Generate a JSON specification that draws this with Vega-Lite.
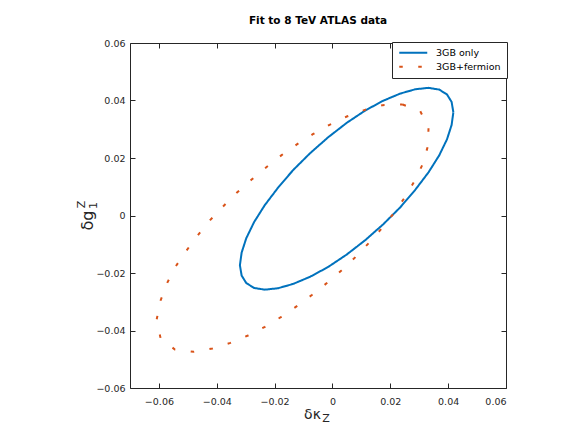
{
  "$schema": "https://vega.github.io/schema/vega-lite/v6.json",
  "autosize": {"type": "none"},
  "width": 376,
  "height": 345,
  "padding": {"left": 130, "top": 43, "right": 67, "bottom": 45},
  "background": "white",
  "title": {"text": "Fit to 8 TeV ATLAS data", "font": "DejaVu Sans", "fontSize": 10.5, "fontWeight": "bold", "color": "#000000", "anchor": "middle", "offset": 12},
  "datasets": {
    "curves": [
      {"s": "3GB only", "i": 0, "x": 0.0418, "y": 0.0359},
      {"s": "3GB only", "i": 1, "x": 0.0412, "y": 0.0315},
      {"s": "3GB only", "i": 2, "x": 0.0396, "y": 0.0265},
      {"s": "3GB only", "i": 3, "x": 0.0369, "y": 0.0209},
      {"s": "3GB only", "i": 4, "x": 0.0332, "y": 0.0150},
      {"s": "3GB only", "i": 5, "x": 0.0286, "y": 0.0089},
      {"s": "3GB only", "i": 6, "x": 0.0234, "y": 0.0028},
      {"s": "3GB only", "i": 7, "x": 0.0175, "y": -0.0031},
      {"s": "3GB only", "i": 8, "x": 0.0113, "y": -0.0086},
      {"s": "3GB only", "i": 9, "x": 0.0049, "y": -0.0136},
      {"s": "3GB only", "i": 10, "x": -0.0015, "y": -0.0179},
      {"s": "3GB only", "i": 11, "x": -0.0077, "y": -0.0213},
      {"s": "3GB only", "i": 12, "x": -0.0136, "y": -0.0238},
      {"s": "3GB only", "i": 13, "x": -0.0188, "y": -0.0253},
      {"s": "3GB only", "i": 14, "x": -0.0234, "y": -0.0258},
      {"s": "3GB only", "i": 15, "x": -0.0271, "y": -0.0252},
      {"s": "3GB only", "i": 16, "x": -0.0298, "y": -0.0235},
      {"s": "3GB only", "i": 17, "x": -0.0314, "y": -0.0209},
      {"s": "3GB only", "i": 18, "x": -0.0320, "y": -0.0173},
      {"s": "3GB only", "i": 19, "x": -0.0314, "y": -0.0129},
      {"s": "3GB only", "i": 20, "x": -0.0298, "y": -0.0079},
      {"s": "3GB only", "i": 21, "x": -0.0271, "y": -0.0023},
      {"s": "3GB only", "i": 22, "x": -0.0234, "y": 0.0036},
      {"s": "3GB only", "i": 23, "x": -0.0188, "y": 0.0097},
      {"s": "3GB only", "i": 24, "x": -0.0136, "y": 0.0158},
      {"s": "3GB only", "i": 25, "x": -0.0077, "y": 0.0217},
      {"s": "3GB only", "i": 26, "x": -0.0015, "y": 0.0272},
      {"s": "3GB only", "i": 27, "x": 0.0049, "y": 0.0322},
      {"s": "3GB only", "i": 28, "x": 0.0113, "y": 0.0365},
      {"s": "3GB only", "i": 29, "x": 0.0175, "y": 0.0399},
      {"s": "3GB only", "i": 30, "x": 0.0234, "y": 0.0424},
      {"s": "3GB only", "i": 31, "x": 0.0286, "y": 0.0439},
      {"s": "3GB only", "i": 32, "x": 0.0332, "y": 0.0444},
      {"s": "3GB only", "i": 33, "x": 0.0369, "y": 0.0438},
      {"s": "3GB only", "i": 34, "x": 0.0396, "y": 0.0421},
      {"s": "3GB only", "i": 35, "x": 0.0412, "y": 0.0395},
      {"s": "3GB only", "i": 36, "x": 0.0418, "y": 0.0359},
      {"s": "3GB+fermion", "i": 0, "x": 0.02425, "y": 0.03861},
      {"s": "3GB+fermion", "i": 1, "x": 0.03034, "y": 0.03629},
      {"s": "3GB+fermion", "i": 2, "x": 0.03322, "y": 0.03072},
      {"s": "3GB+fermion", "i": 3, "x": 0.03299, "y": 0.02412},
      {"s": "3GB+fermion", "i": 4, "x": 0.03115, "y": 0.01774},
      {"s": "3GB+fermion", "i": 5, "x": 0.02828, "y": 0.01183},
      {"s": "3GB+fermion", "i": 6, "x": 0.02483, "y": 0.00603},
      {"s": "3GB+fermion", "i": 7, "x": 0.02103, "y": 0.00058},
      {"s": "3GB+fermion", "i": 8, "x": 0.0169, "y": -0.00464},
      {"s": "3GB+fermion", "i": 9, "x": 0.01253, "y": -0.00962},
      {"s": "3GB+fermion", "i": 10, "x": 0.00793, "y": -0.01449},
      {"s": "3GB+fermion", "i": 11, "x": 0.0031, "y": -0.01913},
      {"s": "3GB+fermion", "i": 12, "x": -0.00184, "y": -0.02342},
      {"s": "3GB+fermion", "i": 13, "x": -0.00701, "y": -0.02759},
      {"s": "3GB+fermion", "i": 14, "x": -0.0123, "y": -0.03154},
      {"s": "3GB+fermion", "i": 15, "x": -0.0177, "y": -0.03525},
      {"s": "3GB+fermion", "i": 16, "x": -0.02333, "y": -0.03872},
      {"s": "3GB+fermion", "i": 17, "x": -0.0292, "y": -0.04174},
      {"s": "3GB+fermion", "i": 18, "x": -0.03529, "y": -0.04429},
      {"s": "3GB+fermion", "i": 19, "x": -0.04149, "y": -0.04626},
      {"s": "3GB+fermion", "i": 20, "x": -0.04793, "y": -0.04742},
      {"s": "3GB+fermion", "i": 21, "x": -0.05448, "y": -0.04661},
      {"s": "3GB+fermion", "i": 22, "x": -0.05943, "y": -0.04267},
      {"s": "3GB+fermion", "i": 23, "x": -0.0608, "y": -0.03629},
      {"s": "3GB+fermion", "i": 24, "x": -0.05943, "y": -0.02957},
      {"s": "3GB+fermion", "i": 25, "x": -0.05713, "y": -0.02342},
      {"s": "3GB+fermion", "i": 26, "x": -0.05414, "y": -0.01762},
      {"s": "3GB+fermion", "i": 27, "x": -0.05046, "y": -0.01217},
      {"s": "3GB+fermion", "i": 28, "x": -0.04644, "y": -0.00672},
      {"s": "3GB+fermion", "i": 29, "x": -0.0423, "y": -0.00162},
      {"s": "3GB+fermion", "i": 30, "x": -0.03782, "y": 0.00313},
      {"s": "3GB+fermion", "i": 31, "x": -0.0331, "y": 0.00789},
      {"s": "3GB+fermion", "i": 32, "x": -0.02805, "y": 0.01241},
      {"s": "3GB+fermion", "i": 33, "x": -0.02287, "y": 0.01681},
      {"s": "3GB+fermion", "i": 34, "x": -0.01759, "y": 0.02099},
      {"s": "3GB+fermion", "i": 35, "x": -0.01218, "y": 0.02481},
      {"s": "3GB+fermion", "i": 36, "x": -0.00678, "y": 0.02829},
      {"s": "3GB+fermion", "i": 37, "x": -0.00103, "y": 0.03154},
      {"s": "3GB+fermion", "i": 38, "x": 0.00494, "y": 0.03443},
      {"s": "3GB+fermion", "i": 39, "x": 0.01126, "y": 0.03675},
      {"s": "3GB+fermion", "i": 40, "x": 0.01736, "y": 0.03838},
      {"s": "3GB+fermion", "i": 41, "x": 0.02425, "y": 0.03861}
    ]
  },
  "data": {"name": "curves"},
  "resolve": {"axis": {"x": "independent", "y": "independent"}},
  "layer": [
    {
      "mark": {"type": "line", "strokeWidth": 2, "strokeCap": "butt", "clip": false},
      "encoding": {
        "x": {"field": "x", "type": "quantitative", "scale": {"domain": [-0.07, 0.06], "nice": false, "zero": false},
          "axis": {"orient": "bottom", "values": [-0.06, -0.04, -0.02, 0, 0.02, 0.04, 0.06], "format": "~g", "grid": false,
            "tickSize": -5, "labelPadding": 13, "title": "δκ", "titleX": 182, "titleY": 30, "titleBaseline": "alphabetic", "titleAlign": "center", "titleFontSize": 14, "titleFontWeight": "normal"}},
        "y": {"field": "y", "type": "quantitative", "scale": {"domain": [-0.06, 0.06], "nice": false, "zero": false},
          "axis": {"orient": "left", "values": [-0.06, -0.04, -0.02, 0, 0.02, 0.04, 0.06], "format": "~g", "grid": false,
            "tickSize": -5, "labelPadding": 10, "title": "δg", "titleX": -38, "titleY": 177, "titleAngle": -90, "titleBaseline": "alphabetic", "titleAlign": "center", "titleFontSize": 16, "titleFontWeight": "normal"}},
        "color": {"field": "s", "type": "nominal", "scale": {"domain": ["3GB only", "3GB+fermion"], "range": ["#0072BD", "#D95319"]},
          "legend": {"title": null, "orient": "none", "legendX": 262, "legendY": -1}},
        "strokeDash": {"field": "s", "type": "nominal", "scale": {"domain": ["3GB only", "3GB+fermion"], "range": [[1, 0], [3.5, 15.5]]},
          "legend": {"title": null, "orient": "none", "legendX": 262, "legendY": -1}},
        "order": {"field": "i", "type": "quantitative"}
      }
    },
    {
      "mark": {"type": "point", "opacity": 0},
      "encoding": {
        "x": {"field": "x", "type": "quantitative",
          "axis": {"orient": "top", "values": [-0.06, -0.04, -0.02, 0, 0.02, 0.04, 0.06], "labels": false, "title": null, "grid": false, "tickSize": -5}},
        "y": {"field": "y", "type": "quantitative",
          "axis": {"orient": "right", "values": [-0.06, -0.04, -0.02, 0, 0.02, 0.04, 0.06], "labels": false, "title": null, "grid": false, "tickSize": -5}}
      }
    },
    {
      "mark": {"type": "point", "opacity": 0},
      "encoding": {
        "x": {"field": "x", "type": "quantitative",
          "axis": {"orient": "bottom", "labels": false, "ticks": false, "domain": false, "grid": false, "title": "Z", "titleX": 195.5, "titleY": 33, "titleBaseline": "alphabetic", "titleAlign": "center", "titleFontSize": 11, "titleFontWeight": "normal"}},
        "y": {"field": "y", "type": "quantitative",
          "axis": {"orient": "left", "labels": false, "ticks": false, "domain": false, "grid": false, "title": "1", "titleX": -34, "titleY": 162, "titleAngle": -90, "titleBaseline": "alphabetic", "titleAlign": "center", "titleFontSize": 11, "titleFontWeight": "normal"}}
      }
    },
    {
      "mark": {"type": "point", "opacity": 0},
      "encoding": {
        "x": {"field": "x", "type": "quantitative", "axis": null},
        "y": {"field": "y", "type": "quantitative",
          "axis": {"orient": "left", "labels": false, "ticks": false, "domain": false, "grid": false, "title": "Z", "titleX": -46, "titleY": 161, "titleAngle": -90, "titleBaseline": "alphabetic", "titleAlign": "center", "titleFontSize": 11, "titleFontWeight": "normal"}}
      }
    }
  ],
  "config": {
    "font": "DejaVu Sans",
    "view": {"stroke": null},
    "axis": {"domainColor": "#262626", "domainWidth": 1, "tickColor": "#262626", "tickWidth": 1, "labelColor": "#262626", "labelFont": "DejaVu Sans", "labelFontSize": 9.5, "titleColor": "#262626", "titleFont": "DejaVu Sans"},
    "legend": {"fillColor": "white", "strokeColor": "#262626", "padding": 6, "symbolType": "M-4,0H4", "symbolSize": 49, "symbolOffset": 10.5, "symbolStrokeWidth": 2, "labelFont": "DejaVu Sans", "labelFontSize": 9.5, "labelColor": "#000000", "rowPadding": 3, "labelOffset": 18}
  }
}
